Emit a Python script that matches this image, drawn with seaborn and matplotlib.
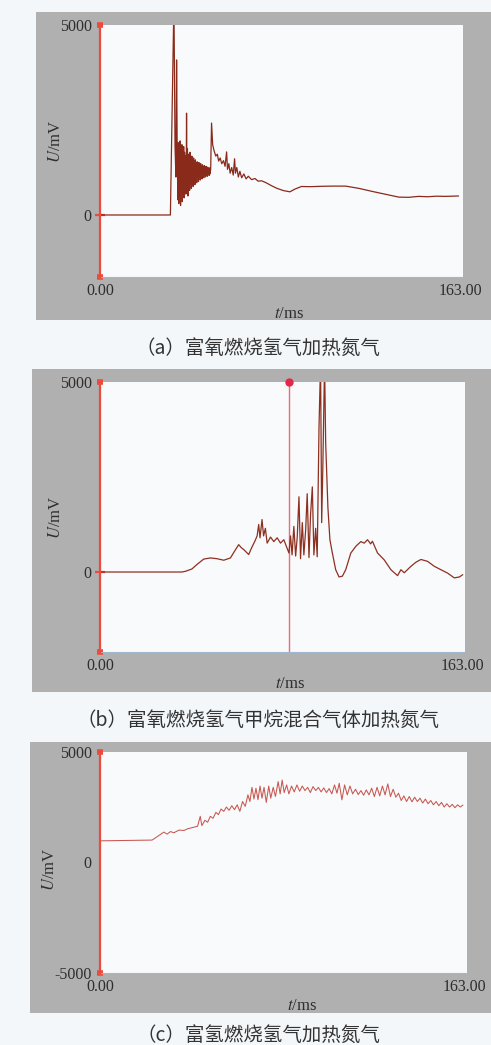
import numpy as np
import pandas as pd
import matplotlib
matplotlib.use("Agg")
import matplotlib.pyplot as plt
from matplotlib.patches import Rectangle
import seaborn as sns

# ---------------- data ----------------
# panel (a): onset, dense oscillation band, decay
t_a = [0, 31.8, 33.4, 33.9, 34.3, 34.6, 34.9,
       35.2, 35.4, 35.6, 35.8, 36.0, 36.2, 36.4, 36.6, 36.8, 37.0,
       37.2, 37.4, 37.6, 37.8, 38.0, 38.2, 38.4, 38.6, 38.8, 39.0,
       39.1, 39.3, 39.5, 39.7, 39.9, 40.1, 40.3, 40.5, 40.7, 40.9,
       41.1, 41.3, 41.5, 41.7, 41.9, 42.1, 42.3, 42.5, 42.7, 42.9,
       43.1, 43.3, 43.5, 43.7, 43.9, 44.1, 44.3, 44.5, 44.7, 44.9,
       45.1, 45.3, 45.5, 45.7, 45.9, 46.1, 46.3, 46.5, 46.7, 46.9,
       47.1, 47.3, 47.5, 47.7, 47.9, 48.1, 48.3, 48.5, 48.7, 48.9,
       49.1, 49.3, 49.5, 49.7, 50.0,
       50.4, 50.9, 51.5, 52.3, 53.0, 53.6, 54.3, 55.0, 55.8, 56.5,
       57.2, 57.6, 58.2, 58.8, 59.5, 60.2, 60.8, 61.2, 61.8, 62.5,
       63.2, 64.0, 65.0, 66.0, 67.0, 68.5, 70.0, 71.5, 73.0, 75.0,
       77.5, 80.0, 83.0, 85.8, 88.0, 91.0, 95.0, 100.0, 105.0, 111.0,
       117.0, 123.0, 129.0, 135.0, 139.5, 144.0, 148.0, 152.0, 156.0, 162.0]
u_a = [0, 0, 5600, 1800, 1000, 4080, 1500,
       400, 1900, 300, 1750, 500, 1950, 250, 1600, 600, 1850,
       350, 1500, 700, 1800, 450, 1650, 800, 1550, 550, 1400,
       2680, 600, 1750, 500, 1600, 750, 1500, 650, 1650, 850,
       1450, 700, 1550, 900, 1400, 750, 1500, 950, 1350, 800,
       1450, 980, 1320, 850, 1400, 1000, 1300, 880, 1380, 1020,
       1280, 920, 1350, 1040, 1260, 950, 1320, 1060, 1250, 980,
       1300, 1080, 1240, 1000, 1280, 1090, 1230, 1020, 1260, 1100,
       1220, 1040, 1240, 1080, 1200,
       2420, 1850, 1700, 1550, 1600, 1420, 1500, 1350, 1430, 1280,
       1660, 1200, 1350, 1100, 1250, 1050, 1480, 1100, 1250, 1000,
       1150, 980, 1080, 950, 1020, 930, 960, 890, 900, 850,
       770, 700, 640, 610, 680, 750, 745, 755, 760, 760,
       700, 620, 545, 470, 465, 490, 480, 495, 490, 500]

t_b = [0, 36.8, 38.5, 41.3, 43.6, 46.6, 49.6, 52.6, 55.6, 58.6, 60.8, 62.3, 63.5, 64.6, 66.8,
       68.3, 69.5, 70.6, 71.3, 71.9, 72.8, 73.5, 74.3, 75.1, 76.6, 78.1, 79.6, 81.1, 82.6, 84.1,
       84.9, 85.6, 86.3, 87.1, 87.9, 88.6, 89.4, 90.1, 90.9, 91.6, 92.4, 93.1, 93.9, 94.6, 95.4,
       96.1, 96.9, 97.6, 98.4, 99.1, 99.6, 100.1, 100.9, 101.4, 102.4, 103.3, 104.4, 105.9, 107.4,
       108.9, 110.4, 112.7, 115.0, 117.2, 118.7, 120.2, 121.6, 122.4, 124.7, 127.7, 130.7, 133.7,
       135.2, 136.7, 139.7, 142.0, 144.2, 147.2, 150.2, 153.2, 156.2, 159.2, 161.5, 163.0]
u_b = [0, 0, 20, 80, 200, 340, 370, 350, 310, 370, 580, 720, 640, 590, 460,
       660, 800, 950, 1250, 900, 1380, 950, 1150, 760, 920, 800, 900, 760, 850, 620,
       500, 950, 450, 1200, 420, 900, 1980, 350, 1300, 450, 1100, 2060, 380, 1500, 2240,
       450, 1150, 400, 3800, 5500, 1300, 2700, 5500, 3400, 1700, 850, 500, 60, -130,
       -110, 60, 500, 680, 800, 760, 850, 740, 810, 500, 320, 60, -95,
       60, -20, 150, 260, 330, 280, 150, 60, -30, -155, -130, -70]
cursor_b = 85.0

t_c = [0, 23.3, 25.5, 27.0, 28.5, 30.0, 31.5, 33.0, 35.3, 37.6, 39.1, 41.3, 43.6, 44.8, 45.5,
       46.9, 48.1, 49.3, 50.5, 51.8, 52.9, 54.1, 55.3, 56.5, 57.7, 58.9, 60.1, 61.3, 62.5, 63.7,
       64.9, 66.1, 67.0, 67.9, 68.8, 69.7, 70.6, 71.5, 72.4, 73.3, 74.3, 75.4, 76.3, 77.4, 78.4,
       79.6, 80.5, 81.4, 82.3, 83.4, 84.4, 85.6, 86.8, 88.0, 89.2, 90.4, 91.6, 92.8, 94.0, 95.2,
       96.4, 97.6, 98.8, 100.0, 101.2, 102.4, 103.6, 104.8, 105.9, 106.9, 108.1, 109.3, 110.5,
       111.7, 112.9, 114.2, 115.4, 116.6, 117.8, 119.0, 120.2, 121.4, 122.6, 123.8, 125.0, 126.2,
       127.4, 128.6, 129.8, 131.0, 132.2, 133.4, 134.6, 135.8, 137.0, 138.2, 139.4, 140.6, 141.8,
       143.0, 144.2, 145.4, 146.6, 147.8, 149.0, 150.2, 151.4, 152.6, 153.8, 155.0, 156.2, 157.4,
       158.6, 159.8, 161.0, 162.2]
u_c = [980, 1015, 1165, 1270, 1375, 1285, 1400, 1345, 1465, 1450, 1525, 1580, 1640, 2090, 1670,
       1910, 1820, 2090, 2000, 2270, 2165, 2420, 2315, 2510, 2360, 2570, 2390, 2610, 2315, 2760,
       2540, 3060, 2760, 3400, 2870, 3360, 2840, 3460, 2910, 3400, 2720, 3460, 2910, 3400, 2990,
       3660, 3105, 3730, 3165, 3510, 3105, 3460, 3195, 3510, 3225, 3460, 3255, 3400, 3165, 3435,
       3255, 3400, 3195, 3375, 3165, 3345, 3105, 3510, 3135, 3585, 2835, 3510, 3060,
       3460, 3105, 3315, 3075, 3255, 3045, 3285, 3060, 3360, 2985, 3400, 3015, 3460,
       3060, 3555, 2985, 3315, 2955, 3135, 2805, 3015, 2760, 2985, 2745, 2955, 2760,
       2910, 2690, 2870, 2660, 2805, 2610, 2760, 2570, 2720, 2510, 2660, 2510, 2630,
       2480, 2610, 2510, 2600]

x_tick_labels = ["0.00", "163.00"]
x_tick_values = [0, 163]
captions = ["（a）富氧燃烧氢气加热氮气",
            "（b）富氧燃烧氢气甲烷混合气体加热氮气",
            "（c）富氢燃烧氢气加热氮气"]

# ---------------- style ----------------
sns.set_style("white")
plt.rcParams['font.family'] = ['Liberation Serif', 'DejaVu Serif']
plt.rcParams['mathtext.fontset'] = 'stix'

W, H = 491, 1045
fig = plt.figure(figsize=(W / 100, H / 100), dpi=100)
fig.patch.set_facecolor('#f4f7fa')

GRAY = '#b0b0b0'
RED = '#ee4a3c'
TXT = '#2e2e2e'


def fig_rect(x0, y0, x1, y1):
    return [x0 / W, 1 - y1 / H, (x1 - x0) / W, (y1 - y0) / H]


def panel(gray_box, ax_box, t, u, ylim, color, lw, yticks, ylabels, zero_tick,
          ylab_pos, xlab_pos):
    gx = fig_rect(*gray_box)
    fig.patches.append(Rectangle((gx[0], gx[1]), gx[2], gx[3], transform=fig.transFigure,
                                 facecolor=GRAY, edgecolor='none', zorder=-10))
    ax = fig.add_axes(fig_rect(*ax_box))
    ax.set_zorder(2)
    ax.set_facecolor('#f8fafc')
    df = pd.DataFrame({'t': t, 'U': u})
    sns.lineplot(data=df, x='t', y='U', ax=ax, color=color, linewidth=lw,
                 estimator=None, sort=False)
    ax.set_xlim(0, 164)
    ax.set_ylim(*ylim)
    for s in ['top', 'right']:
        ax.spines[s].set_visible(False)
    ax.spines['left'].set_color(RED)
    ax.spines['left'].set_linewidth(1.6)
    ax.spines['left'].set_zorder(5)
    ax.spines['bottom'].set_color('#9fb8d0')
    ax.spines['bottom'].set_linewidth(0.8)

    ax.set_yticks(yticks)
    ax.set_yticklabels(ylabels)
    ax.tick_params(axis='y', direction='inout', length=4, width=4, color=RED,
                   labelsize=11.5, labelcolor=TXT, pad=4, left=True)
    for tk, val in zip(ax.yaxis.get_major_ticks(), yticks):
        if val == 0:
            if zero_tick:
                tk.tick1line.set_markersize(7)
                tk.tick1line.set_markeredgewidth(1.6)
            else:
                tk.tick1line.set_visible(False)
        tk.tick1line.set_clip_on(False)

    ax.set_xticks(x_tick_values)
    ax.set_xticklabels(x_tick_labels)
    ax.tick_params(axis='x', length=0, labelsize=11.5, labelcolor=TXT, pad=4)

    ax.set_xlabel(r"$t$/ms", fontsize=12, color=TXT)
    ax.xaxis.set_label_coords(*xlab_pos)
    ax.set_ylabel(r"$U$/mV", fontsize=12, color=TXT)
    ax.yaxis.set_label_coords(*ylab_pos)
    return ax


# panel (a)
ax_a = panel((36, 12, 491, 320), (100, 25, 463, 277), t_a, u_a, (-1632, 5000),
             '#8a2a1a', 0.9, [-1632, 0, 5000], ["", "0", "5000"], True,
             (-0.10, 0.54), (0.52, -0.115))

# panel (b)
ax_b = panel((32, 369, 491, 692), (100, 382, 465, 652), t_b, u_b, (-2105, 5000),
             '#8e3020', 0.9, [-2105, 0, 5000], ["", "0", "5000"], True,
             (-0.10, 0.50), (0.52, -0.088))
ax_b.axvline(cursor_b, color='#f26a78', lw=1.0, zorder=1)
ax_b.plot([cursor_b], [5000], marker='o', ms=5, color='#e0284a', clip_on=False, zorder=6)

# panel (c)
ax_c = panel((30, 742, 491, 1013), (100, 752, 467, 973), t_c, u_c, (-5000, 5000),
             '#c8574f', 0.75, [-5000, 0, 5000], ["-5000", "0", "5000"], False,
             (-0.115, 0.47), (0.55, -0.115))

# captions
for cap, y in zip(captions, [348, 720, 1035]):
    fig.text(258 / W, 1 - y / H, cap, ha='center', va='center', fontsize=14,
             color='#333333', family=['Noto Sans CJK SC', 'DejaVu Sans'])

fig.savefig('out.png', dpi=100, facecolor=fig.get_facecolor())
